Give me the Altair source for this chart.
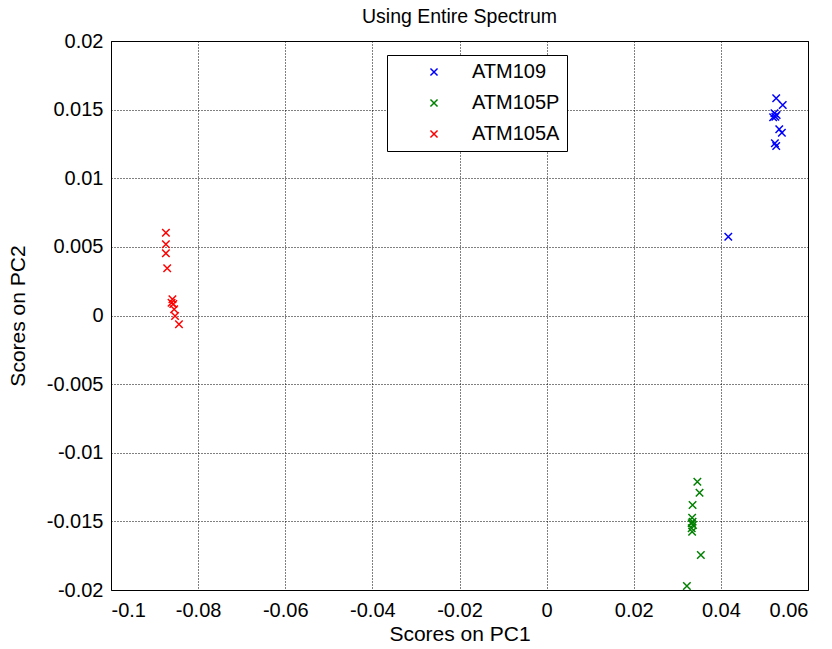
import altair as alt
import pandas as pd

# Data
atm109_x = [0.0527, 0.0542, 0.0523, 0.0528, 0.0520, 0.0525, 0.0534, 0.0540, 0.0524, 0.0527, 0.0417]
atm109_y = [0.01583, 0.01534, 0.01473, 0.01461, 0.01444, 0.01448, 0.01357, 0.01332, 0.01255, 0.01235, 0.00574]

atm105p_x = [0.0346, 0.0351, 0.0335, 0.0334, 0.0335, 0.0333, 0.0336, 0.0333, 0.0334, 0.0354, 0.0322]
atm105p_y = [-0.01211, -0.01291, -0.01381, -0.01473, -0.01502, -0.01514, -0.01526, -0.01550, -0.01575, -0.01745, -0.01971]

atm105a_x = [-0.0874, -0.0874, -0.0874, -0.0871, -0.0859, -0.0861, -0.0857, -0.0855, -0.0853, -0.0844]
atm105a_y = [0.00603, 0.00519, 0.00453, 0.00344, 0.00118, 0.00093, 0.00084, 0.00045, -0.00004, -0.00064]

series_names = ["ATM109", "ATM105P", "ATM105A"]
series_colors = ["#0000FF", "#008000", "#FF0000"]

x_ticks = [-0.1, -0.08, -0.06, -0.04, -0.02, 0, 0.02, 0.04, 0.06]
y_ticks = [-0.02, -0.015, -0.01, -0.005, 0, 0.005, 0.01, 0.015, 0.02]

rows = []
for name, xs, ys in zip(series_names,
                        [atm109_x, atm105p_x, atm105a_x],
                        [atm109_y, atm105p_y, atm105a_y]):
    for xv, yv in zip(xs, ys):
        rows.append({"pc1": xv, "pc2": yv, "group": name})
df = pd.DataFrame(rows)

FONT = "Liberation Sans"
XPATH = "M-1,-1L1,1M-1,1L1,-1"

chart = alt.Chart(df).mark_point(
    shape=XPATH, filled=False, size=56, strokeWidth=1.5, opacity=1
).encode(
    x=alt.X("pc1:Q", scale=alt.Scale(domain=[-0.1, 0.06], nice=False, zero=False),
            axis=alt.Axis(values=x_ticks, title="Scores on PC1",
                          labelExpr="toString(datum.value)")),
    y=alt.Y("pc2:Q", scale=alt.Scale(domain=[-0.02, 0.02], nice=False, zero=False),
            axis=alt.Axis(values=y_ticks, title="Scores on PC2",
                          labelExpr="toString(datum.value)")),
    color=alt.Color("group:N",
                    scale=alt.Scale(domain=series_names, range=series_colors),
                    legend=alt.Legend(title=None, orient="none", legendX=276, legendY=14,
                                      fillColor="white", strokeColor="black",
                                      padding=7, labelFontSize=20, labelFont=FONT,
                                      labelColor="black",
                                      symbolType=XPATH, symbolSize=50,
                                      symbolStrokeWidth=1.5, symbolFillColor="transparent",
                                      rowPadding=11, symbolOffset=30, labelOffset=28,
                                      labelExpr="datum.label + '\u2002'")),
).properties(
    width=697, height=549,
    title=alt.TitleParams("Using Entire Spectrum", fontSize=19.5, fontWeight="normal",
                          font=FONT, color="black", anchor="middle", offset=4),
    autosize=alt.AutoSizeParams(type="none"),
    padding={"left": 111, "top": 41, "right": 24, "bottom": 59},
    background="white",
).configure_view(
    stroke="black", strokeWidth=1
).configure_axis(
    grid=True, gridColor="black", gridDash=[1, 2], gridWidth=1, gridOpacity=1,
    domain=False, ticks=False,
    labelFont=FONT, labelFontSize=20, labelColor="black",
    titleFont=FONT, titleFontSize=21, titleFontWeight="normal", titleColor="black",
).configure_axisX(
    labelPadding=10, titlePadding=3
).configure_axisY(
    labelPadding=8, titlePadding=18
)

chart.save("out.html", embed_options={"renderer": "svg", "actions": False})
